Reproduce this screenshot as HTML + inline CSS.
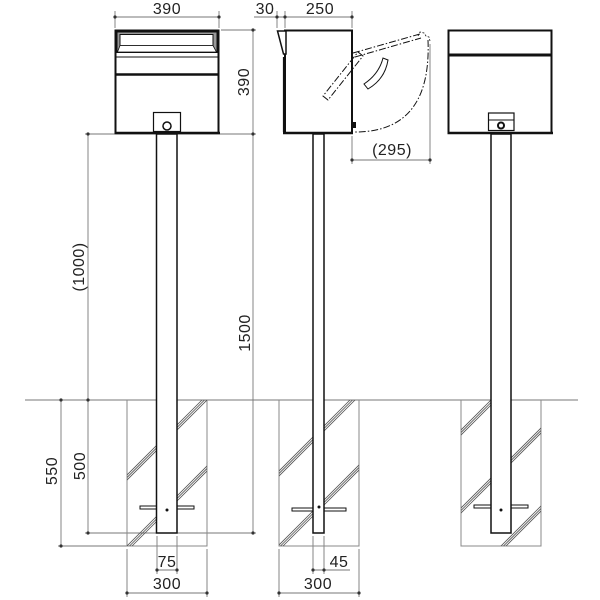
<!DOCTYPE html>
<html><head><meta charset="utf-8"><style>
html,body{margin:0;padding:0;background:#fff;}
svg{display:block;}
text{font-family:"Liberation Sans",sans-serif;font-size:16px;fill:#222;letter-spacing:0.5px;}
</style></head><body>
<svg width="600" height="600" viewBox="0 0 600 600" xmlns="http://www.w3.org/2000/svg">
<defs>
<clipPath id="cl"><rect x="127" y="400" width="80" height="146"/></clipPath>
<clipPath id="cm"><rect x="279" y="400" width="80" height="146"/></clipPath>
<clipPath id="cr"><rect x="461" y="400" width="80" height="146"/></clipPath>
</defs>

<!-- dimension lines (gray) -->
<g stroke="#777" stroke-width="0.9" fill="none">
  <line x1="25" y1="400" x2="578" y2="400"/>
  <line x1="115" y1="17" x2="219" y2="17"/>
  <line x1="115" y1="11" x2="115" y2="28"/>
  <line x1="219" y1="11" x2="219" y2="28"/>
  <line x1="254" y1="17" x2="352" y2="17"/>
  <line x1="277" y1="11" x2="277" y2="28"/>
  <line x1="285" y1="11" x2="285" y2="28"/>
  <line x1="352" y1="11" x2="352" y2="28"/>
  <line x1="253" y1="30" x2="253" y2="533"/>
  <line x1="221" y1="30" x2="256" y2="30"/>
  <line x1="85" y1="134" x2="256" y2="134"/>
  <line x1="85" y1="533" x2="256" y2="533"/>
  <line x1="88" y1="134" x2="88" y2="533"/>
  <line x1="61" y1="400" x2="61" y2="546"/>
  <line x1="58" y1="546" x2="127" y2="546"/>
  <line x1="352" y1="160" x2="430" y2="160"/>
  <line x1="352" y1="136" x2="352" y2="164"/>
  <line x1="430" y1="44" x2="430" y2="164"/>
  <line x1="127" y1="549" x2="127" y2="597"/>
  <line x1="207" y1="549" x2="207" y2="597"/>
  <line x1="127" y1="593" x2="207" y2="593"/>
  <line x1="157" y1="536" x2="157" y2="574"/>
  <line x1="177" y1="536" x2="177" y2="574"/>
  <line x1="157" y1="570" x2="177" y2="570"/>
  <line x1="279" y1="549" x2="279" y2="597"/>
  <line x1="359" y1="549" x2="359" y2="597"/>
  <line x1="279" y1="593" x2="359" y2="593"/>
  <line x1="313" y1="536" x2="313" y2="574"/>
  <line x1="324" y1="536" x2="324" y2="574"/>
  <line x1="313" y1="570" x2="350" y2="570"/>
</g>

<!-- pits -->
<g stroke="#888" stroke-width="1" fill="none">
  <polyline points="127,400 127,546 207,546 207,400"/>
  <polyline points="279,400 279,546 359,546 359,400"/>
  <polyline points="461,400 461,546 541,546 541,400"/>
</g>

<!-- hatches -->
<g stroke="#555" stroke-width="0.8">
  <g clip-path="url(#cl)">
    <line x1="117" y1="485" x2="212" y2="390"/><line x1="119.5" y1="485" x2="214.5" y2="390"/><line x1="122" y1="485" x2="217" y2="390"/>
    <line x1="117" y1="556" x2="222" y2="451"/><line x1="119.5" y1="556" x2="224.5" y2="451"/><line x1="122" y1="556" x2="227" y2="451"/>
  </g>
  <g clip-path="url(#cm)">
    <line x1="269" y1="481" x2="364" y2="386"/><line x1="271.5" y1="481" x2="366.5" y2="386"/><line x1="274" y1="481" x2="369" y2="386"/>
    <line x1="269" y1="555" x2="374" y2="450"/><line x1="271.5" y1="555" x2="376.5" y2="450"/><line x1="274" y1="555" x2="379" y2="450"/>
  </g>
  <g clip-path="url(#cr)">
    <line x1="451" y1="440" x2="546" y2="345"/><line x1="453.5" y1="440" x2="548.5" y2="345"/><line x1="456" y1="440" x2="551" y2="345"/>
    <line x1="451" y1="518" x2="556" y2="413"/><line x1="453.5" y1="518" x2="558.5" y2="413"/><line x1="456" y1="518" x2="561" y2="413"/>
    <line x1="491" y1="556" x2="556" y2="491"/><line x1="493.5" y1="556" x2="558.5" y2="491"/><line x1="496" y1="556" x2="561" y2="491"/>
  </g>
</g>

<!-- crossbars -->
<g stroke="#111" stroke-width="1" fill="#fff">
  <rect x="140" y="506" width="54" height="3"/>
  <rect x="292" y="508" width="54" height="3"/>
  <rect x="474" y="505" width="54" height="3"/>
</g>

<!-- poles -->
<g stroke="#111" stroke-width="1.5" fill="#fff">
  <rect x="156.5" y="134" width="20.5" height="399"/>
  <rect x="313" y="134" width="11" height="399"/>
  <rect x="491" y="134" width="20" height="399"/>
</g>

<!-- FRONT BOX -->
<g stroke="#111" fill="#fff">
  <rect x="115.5" y="30.5" width="103" height="102.5" stroke-width="2"/>
  <rect x="117" y="32" width="100" height="20.5" fill="#9a9a9a" stroke-width="1"/>
  <rect x="120" y="34.5" width="93" height="11" stroke-width="1"/>
  <polygon points="120,45.5 213,45.5 216.5,52 117.5,52" stroke-width="0.8"/>
  <line x1="115" y1="57" x2="219" y2="57" stroke-width="1"/>
  <line x1="115" y1="74.5" x2="219" y2="74.5" stroke-width="2.5"/>
  <line x1="114.5" y1="133" x2="220" y2="133" stroke-width="2.5"/>
  <rect x="153.5" y="112.5" width="27" height="19" stroke-width="1.2"/>
  <circle cx="167" cy="126" r="4" stroke-width="1.5"/>
</g>

<!-- SIDE BOX -->
<g stroke="#111" fill="#fff">
  <rect x="285" y="30.5" width="67" height="102.5" stroke-width="2"/>
  <polygon points="277.5,31 286,31 286,54 283.5,54" stroke-width="1.5"/>
  <line x1="283.5" y1="57" x2="283.5" y2="132" stroke-width="1.2"/>
  <rect x="283" y="57" width="2.5" height="18" fill="#111" stroke="none"/>
  <line x1="283" y1="133" x2="353" y2="133" stroke-width="2.5"/>
  <rect x="352" y="122" width="4" height="6" fill="#111" stroke="none"/>
  <!-- open lid (dash-dot) -->
  <g fill="none" stroke-width="1" stroke-dasharray="7 2 1.5 2">
    <path d="M353,53 L420,34"/>
    <path d="M355,57 L421,38"/>
    <path d="M428,40 C430,90 415,132 355,132"/>
    <path d="M358,52 L363,56 L328,100 L323,96 Z"/>
  </g>
  <path d="M418,36 l2,-4 l4,1 l2,3 l3,1 l1,4" fill="none" stroke-width="0.8" stroke-dasharray="2 1.5"/>
  <!-- curved arrow -->
  <path d="M364,84 Q379,74 383,58 L388,60 Q385,79 368,89 Z" fill="#fff" stroke="#111" stroke-width="1"/>
</g>

<!-- BACK BOX -->
<g stroke="#111" fill="#fff">
  <rect x="448.5" y="30.5" width="103" height="102.5" stroke-width="2"/>
  <line x1="448" y1="55" x2="552" y2="55" stroke-width="3"/>
  <line x1="447.5" y1="133" x2="553" y2="133" stroke-width="2.5"/>
  <rect x="488.5" y="113" width="25.5" height="17.5" stroke-width="1.2"/>
  <line x1="488.5" y1="120" x2="514" y2="120" stroke-width="1"/>
  <circle cx="501" cy="125.5" r="3" stroke-width="2"/>
</g>

<!-- pole dots -->
<g fill="#111">
  <circle cx="167" cy="510" r="1.5"/>
  <circle cx="319" cy="507" r="1.5"/>
  <circle cx="501" cy="510" r="1.5"/>
</g>

<!-- dimension dots -->
<g fill="#333">
  <circle cx="115" cy="17" r="1.6"/><circle cx="219" cy="17" r="1.6"/>
  <circle cx="277" cy="17" r="1.6"/><circle cx="285" cy="17" r="1.6"/><circle cx="352" cy="17" r="1.6"/>
  <circle cx="253" cy="30" r="1.6"/><circle cx="253" cy="134" r="1.6"/><circle cx="253" cy="533" r="1.6"/>
  <circle cx="88" cy="134" r="1.6"/><circle cx="88" cy="400" r="1.6"/><circle cx="88" cy="533" r="1.6"/>
  <circle cx="61" cy="400" r="1.6"/><circle cx="61" cy="546" r="1.6"/>
  <circle cx="352" cy="160" r="1.6"/><circle cx="430" cy="160" r="1.6"/>
  <circle cx="127" cy="593" r="1.6"/><circle cx="207" cy="593" r="1.6"/>
  <circle cx="157" cy="570" r="1.6"/><circle cx="177" cy="570" r="1.6"/>
  <circle cx="279" cy="593" r="1.6"/><circle cx="359" cy="593" r="1.6"/>
  <circle cx="313" cy="570" r="1.6"/><circle cx="324" cy="570" r="1.6"/>
</g>

<!-- labels -->
<text x="167" y="14" text-anchor="middle">390</text>
<text x="265" y="14" text-anchor="middle">30</text>
<text x="320" y="14" text-anchor="middle">250</text>
<text transform="translate(249,82) rotate(-90)" text-anchor="middle">390</text>
<text transform="translate(250,333) rotate(-90)" text-anchor="middle">1500</text>
<text transform="translate(84,267) rotate(-90)" text-anchor="middle">(1000)</text>
<text transform="translate(85,466) rotate(-90)" text-anchor="middle">500</text>
<text transform="translate(57,471) rotate(-90)" text-anchor="middle">550</text>
<text x="392" y="155" text-anchor="middle">(295)</text>
<text x="167" y="567" text-anchor="middle">75</text>
<text x="167" y="589" text-anchor="middle">300</text>
<text x="339" y="567" text-anchor="middle">45</text>
<text x="318" y="589" text-anchor="middle">300</text>
</svg>
</body></html>
